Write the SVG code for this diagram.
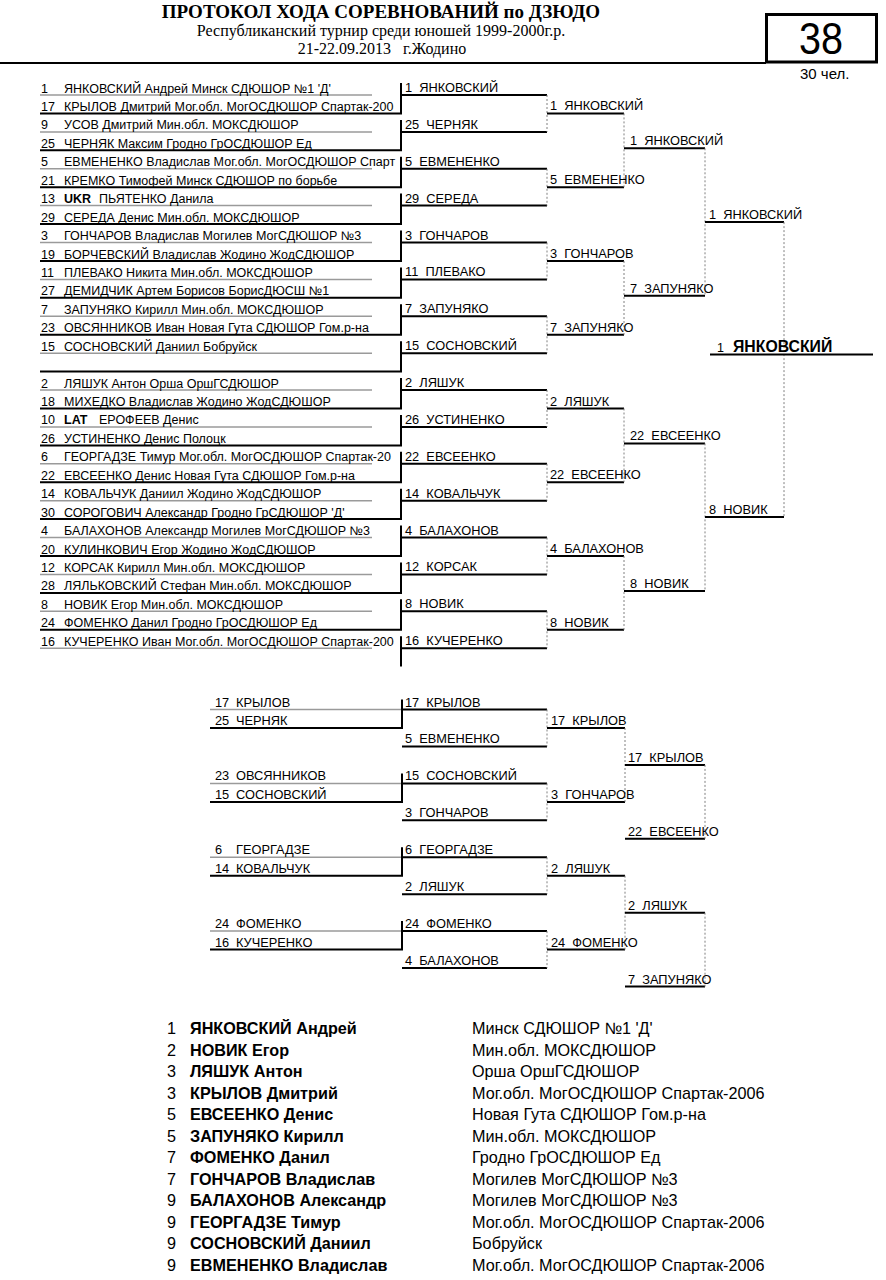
<svg xmlns="http://www.w3.org/2000/svg" width="886" height="1280" viewBox="0 0 886 1280">
<style>
text{font-family:"Liberation Sans",Arial,sans-serif;fill:#000}
.t{font-size:12.8px;white-space:pre}
.e{font-size:12.5px;white-space:pre}
.b{font-weight:bold}
.h{font-family:"Liberation Serif","Times New Roman",serif}
.L{font-size:16.2px}
.g{stroke:#9a9a9a;stroke-width:1.5;fill:none}
.k{stroke:#000;stroke-width:2;fill:none}
.d{stroke:#808080;stroke-width:1;stroke-dasharray:2 2;fill:none}
</style>
<rect width="886" height="1280" fill="#fff"/>
<g id="header">
<text class="h b" x="381" y="18" font-size="19" text-anchor="middle">ПРОТОКОЛ ХОДА СОРЕВНОВАНИЙ по ДЗЮДО</text>
<text class="h" x="381" y="36" font-size="16" text-anchor="middle">Республиканский турнир среди юношей 1999-2000г.р.</text>
<text class="h" x="382" y="54" font-size="16" text-anchor="middle" xml:space="preserve">21-22.09.2013   г.Жодино</text>
<line class="k" x1="0" y1="63" x2="766" y2="63"/>
<rect x="766.5" y="14.5" width="110" height="47.5" fill="none" stroke="#000" stroke-width="3"/>
<text x="821" y="54" font-size="45" text-anchor="middle" textLength="44" lengthAdjust="spacingAndGlyphs">38</text>
<text x="800" y="79" font-size="15">30 чел.</text>
</g>
<g id="connectors">
<path class="g" d="M40 95H372M40 131.9H372M40 168.8H372M40 205.6H372M40 242.5H372M40 279.4H372M40 316.3H372M40 353.2H372M40 390H372M40 426.9H372M40 463.8H372M40 500.7H372M40 537.6H372M40 574.4H372M40 611.3H372M40 648.2H372"/>
<path class="k" d="M40 113.4H401V83M40 150.3H401V119.9M40 187.2H401V156.8M40 224.1H401V193.6M40 261H401V230.5M40 297.8H401V267.4M40 334.7H401V304.3M40 371.6H401V341.2M40 408.5H401V378M40 445.4H401V414.9M40 482.2H401V451.8M40 519.1H401V488.7M40 556H401V525.6M40 592.9H401V562.4M40 629.8H401V599.3M401 666.6V636.2"/>
<path class="k" d="M401 95H547M401 131.9H547M401 168.8H547M401 205.6H547M401 242.5H547M401 279.4H547M401 316.3H547M401 353.2H547M401 390H547M401 426.9H547M401 463.8H547M401 500.7H547M401 537.6H547M401 574.4H547M401 611.3H547M401 648.2H547"/>
<path class="d" d="M547 95V131.9M547 168.8V205.6M547 242.5V279.4M547 316.3V353.2M547 390V426.9M547 463.8V500.7M547 537.6V574.4M547 611.3V648.2"/>
<path class="k" d="M547 113.4H624M547 187.2H624M547 261H624M547 334.7H624M547 408.5H624M547 482.2H624M547 556H624M547 629.8H624"/>
<path class="d" d="M624 113.4V187.2M624 261V334.7M624 408.5V482.2M624 556V629.8"/>
<path class="k" d="M624 148.3H705M624 295.8H705M624 443.4H705M624 590.9H705"/>
<path class="d" d="M705 148.3V295.8M705 443.4V590.9"/>
<path class="k" d="M705 222.1H784M705 517.1H784"/>
<path class="d" d="M784 222.1V517.1"/>
<path class="k" d="M710 354.5H873"/>
<path class="g" d="M210 709.5H402M210 783.4H402M210 857.3H402M210 931.1H402"/>
<path class="k" d="M210 728H402V699.5M210 801.9H402V773.4M210 875.7H402V847.3M210 949.6H402V921.1"/>
<path class="k" d="M402 709.5H547M402 746.4H547M402 783.4H547M402 820.3H547M402 857.3H547M402 894.2H547M402 931.1H547M402 968.1H547"/>
<path class="d" d="M547 709.5V746.4M547 783.4V820.3M547 857.3V894.2M547 931.1V968.1"/>
<path class="k" d="M547 728H625M547 801.9H625M547 875.7H625M547 949.6H625"/>
<path class="d" d="M625 728V801.9M625 875.7V949.6"/>
<path class="k" d="M625 764.9H705M625 838.8H705M625 912.7H705M625 986.6H705"/>
<path class="d" d="M705 764.9V838.8M705 912.7V986.6"/>
</g>
<g id="round1">
<g id="e1"><text class="e" x="41" y="92.5">1</text><text class="e" x="64" y="92.5">ЯНКОВСКИЙ Андрей Минск СДЮШОР №1 'Д'</text></g>
<g id="e17"><text class="e" x="41" y="111">17</text><text class="e" x="64" y="111">КРЫЛОВ Дмитрий Мог.обл. МогОСДЮШОР Спартак-200</text></g>
<g id="e9"><text class="e" x="41" y="129.4">9</text><text class="e" x="64" y="129.4">УСОВ Дмитрий Мин.обл. МОКСДЮШОР</text></g>
<g id="e25"><text class="e" x="41" y="147.8">25</text><text class="e" x="64" y="147.8">ЧЕРНЯК Максим Гродно ГрОСДЮШОР Ед</text></g>
<g id="e5"><text class="e" x="41" y="166.3">5</text><text class="e" x="64" y="166.3">ЕВМЕНЕНКО Владислав Мог.обл. МогОСДЮШОР Спарт</text></g>
<g id="e21"><text class="e" x="41" y="184.7">21</text><text class="e" x="64" y="184.7">КРЕМКО Тимофей Минск СДЮШОР по борьбе</text></g>
<g id="e13"><text class="e" x="41" y="203.1">13</text><text class="e b" x="64" y="203.1">UKR</text><text class="e" x="99" y="203.1">ПЬЯТЕНКО Данила</text></g>
<g id="e29"><text class="e" x="41" y="221.6">29</text><text class="e" x="64" y="221.6">СЕРЕДА Денис Мин.обл. МОКСДЮШОР</text></g>
<g id="e3"><text class="e" x="41" y="240">3</text><text class="e" x="64" y="240">ГОНЧАРОВ Владислав Могилев МогСДЮШОР №3</text></g>
<g id="e19"><text class="e" x="41" y="258.5">19</text><text class="e" x="64" y="258.5">БОРЧЕВСКИЙ Владислав Жодино ЖодСДЮШОР</text></g>
<g id="e11"><text class="e" x="41" y="276.9">11</text><text class="e" x="64" y="276.9">ПЛЕВАКО Никита Мин.обл. МОКСДЮШОР</text></g>
<g id="e27"><text class="e" x="41" y="295.3">27</text><text class="e" x="64" y="295.3">ДЕМИДЧИК Артем Борисов БорисДЮСШ №1</text></g>
<g id="e7"><text class="e" x="41" y="313.8">7</text><text class="e" x="64" y="313.8">ЗАПУНЯКО Кирилл Мин.обл. МОКСДЮШОР</text></g>
<g id="e23"><text class="e" x="41" y="332.2">23</text><text class="e" x="64" y="332.2">ОВСЯННИКОВ Иван Новая Гута СДЮШОР Гом.р-на</text></g>
<g id="e15"><text class="e" x="41" y="350.7">15</text><text class="e" x="64" y="350.7">СОСНОВСКИЙ Даниил Бобруйск</text></g>
<g id="e2"><text class="e" x="41" y="387.5">2</text><text class="e" x="64" y="387.5">ЛЯШУК Антон Орша ОршГСДЮШОР</text></g>
<g id="e18"><text class="e" x="41" y="406">18</text><text class="e" x="64" y="406">МИХЕДКО Владислав Жодино ЖодСДЮШОР</text></g>
<g id="e10"><text class="e" x="41" y="424.4">10</text><text class="e b" x="64" y="424.4">LAT</text><text class="e" x="99" y="424.4">ЕРОФЕЕВ Денис</text></g>
<g id="e26"><text class="e" x="41" y="442.9">26</text><text class="e" x="64" y="442.9">УСТИНЕНКО Денис Полоцк</text></g>
<g id="e6"><text class="e" x="41" y="461.3">6</text><text class="e" x="64" y="461.3">ГЕОРГАДЗЕ Тимур Мог.обл. МогОСДЮШОР Спартак-20</text></g>
<g id="e22"><text class="e" x="41" y="479.7">22</text><text class="e" x="64" y="479.7">ЕВСЕЕНКО Денис Новая Гута СДЮШОР Гом.р-на</text></g>
<g id="e14"><text class="e" x="41" y="498.2">14</text><text class="e" x="64" y="498.2">КОВАЛЬЧУК Даниил Жодино ЖодСДЮШОР</text></g>
<g id="e30"><text class="e" x="41" y="516.6">30</text><text class="e" x="64" y="516.6">СОРОГОВИЧ Александр Гродно ГрСДЮШОР 'Д'</text></g>
<g id="e4"><text class="e" x="41" y="535.1">4</text><text class="e" x="64" y="535.1">БАЛАХОНОВ Александр Могилев МогСДЮШОР №3</text></g>
<g id="e20"><text class="e" x="41" y="553.5">20</text><text class="e" x="64" y="553.5">КУЛИНКОВИЧ Егор Жодино ЖодСДЮШОР</text></g>
<g id="e12"><text class="e" x="41" y="571.9">12</text><text class="e" x="64" y="571.9">КОРСАК Кирилл Мин.обл. МОКСДЮШОР</text></g>
<g id="e28"><text class="e" x="41" y="590.4">28</text><text class="e" x="64" y="590.4">ЛЯЛЬКОВСКИЙ Стефан Мин.обл. МОКСДЮШОР</text></g>
<g id="e8"><text class="e" x="41" y="608.8">8</text><text class="e" x="64" y="608.8">НОВИК Егор Мин.обл. МОКСДЮШОР</text></g>
<g id="e24"><text class="e" x="41" y="627.3">24</text><text class="e" x="64" y="627.3">ФОМЕНКО Данил Гродно ГрОСДЮШОР Ед</text></g>
<g id="e16"><text class="e" x="41" y="645.7">16</text><text class="e" x="64" y="645.7">КУЧЕРЕНКО Иван Мог.обл. МогОСДЮШОР Спартак-200</text></g>
</g>
<g id="round2">
<text class="t" x="405" y="92" xml:space="preserve">1  ЯНКОВСКИЙ</text>
<text class="t" x="405" y="128.9" xml:space="preserve">25  ЧЕРНЯК</text>
<text class="t" x="405" y="165.8" xml:space="preserve">5  ЕВМЕНЕНКО</text>
<text class="t" x="405" y="202.6" xml:space="preserve">29  СЕРЕДА</text>
<text class="t" x="405" y="239.5" xml:space="preserve">3  ГОНЧАРОВ</text>
<text class="t" x="405" y="276.4" xml:space="preserve">11  ПЛЕВАКО</text>
<text class="t" x="405" y="313.3" xml:space="preserve">7  ЗАПУНЯКО</text>
<text class="t" x="405" y="350.2" xml:space="preserve">15  СОСНОВСКИЙ</text>
<text class="t" x="405" y="387" xml:space="preserve">2  ЛЯШУК</text>
<text class="t" x="405" y="423.9" xml:space="preserve">26  УСТИНЕНКО</text>
<text class="t" x="405" y="460.8" xml:space="preserve">22  ЕВСЕЕНКО</text>
<text class="t" x="405" y="497.7" xml:space="preserve">14  КОВАЛЬЧУК</text>
<text class="t" x="405" y="534.6" xml:space="preserve">4  БАЛАХОНОВ</text>
<text class="t" x="405" y="571.4" xml:space="preserve">12  КОРСАК</text>
<text class="t" x="405" y="608.3" xml:space="preserve">8  НОВИК</text>
<text class="t" x="405" y="645.2" xml:space="preserve">16  КУЧЕРЕНКО</text>
</g>
<g id="round3">
<text class="t" x="550" y="110.4" xml:space="preserve">1  ЯНКОВСКИЙ</text>
<text class="t" x="550" y="184.2" xml:space="preserve">5  ЕВМЕНЕНКО</text>
<text class="t" x="550" y="258" xml:space="preserve">3  ГОНЧАРОВ</text>
<text class="t" x="550" y="331.7" xml:space="preserve">7  ЗАПУНЯКО</text>
<text class="t" x="550" y="405.5" xml:space="preserve">2  ЛЯШУК</text>
<text class="t" x="550" y="479.2" xml:space="preserve">22  ЕВСЕЕНКО</text>
<text class="t" x="550" y="553" xml:space="preserve">4  БАЛАХОНОВ</text>
<text class="t" x="550" y="626.8" xml:space="preserve">8  НОВИК</text>
</g>
<g id="round4">
<text class="t" x="630" y="145.3" xml:space="preserve">1  ЯНКОВСКИЙ</text>
<text class="t" x="630" y="292.8" xml:space="preserve">7  ЗАПУНЯКО</text>
<text class="t" x="630" y="440.4" xml:space="preserve">22  ЕВСЕЕНКО</text>
<text class="t" x="630" y="587.9" xml:space="preserve">8  НОВИК</text>
</g>
<g id="round5">
<text class="t" x="709" y="219.1" xml:space="preserve">1  ЯНКОВСКИЙ</text>
<text class="t" x="709" y="514.1" xml:space="preserve">8  НОВИК</text>
</g>
<g id="final">
<text x="717" y="351.5" font-size="12.5">1</text>
<text class="b" x="733" y="351.5" font-size="15.8">ЯНКОВСКИЙ</text>
</g>
<g id="repechage">
<text class="t" x="215" y="706.5">17</text><text class="t" x="236" y="706.5">КРЫЛОВ</text>
<text class="t" x="215" y="725">25</text><text class="t" x="236" y="725">ЧЕРНЯК</text>
<text class="t" x="215" y="780.4">23</text><text class="t" x="236" y="780.4">ОВСЯННИКОВ</text>
<text class="t" x="215" y="798.9">15</text><text class="t" x="236" y="798.9">СОСНОВСКИЙ</text>
<text class="t" x="215" y="854.3">6</text><text class="t" x="236" y="854.3">ГЕОРГАДЗЕ</text>
<text class="t" x="215" y="872.7">14</text><text class="t" x="236" y="872.7">КОВАЛЬЧУК</text>
<text class="t" x="215" y="928.1">24</text><text class="t" x="236" y="928.1">ФОМЕНКО</text>
<text class="t" x="215" y="946.6">16</text><text class="t" x="236" y="946.6">КУЧЕРЕНКО</text>
<text class="t" x="405" y="706.5" xml:space="preserve">17  КРЫЛОВ</text>
<text class="t" x="405" y="743.4" xml:space="preserve">5  ЕВМЕНЕНКО</text>
<text class="t" x="405" y="780.4" xml:space="preserve">15  СОСНОВСКИЙ</text>
<text class="t" x="405" y="817.3" xml:space="preserve">3  ГОНЧАРОВ</text>
<text class="t" x="405" y="854.3" xml:space="preserve">6  ГЕОРГАДЗЕ</text>
<text class="t" x="405" y="891.2" xml:space="preserve">2  ЛЯШУК</text>
<text class="t" x="405" y="928.1" xml:space="preserve">24  ФОМЕНКО</text>
<text class="t" x="405" y="965.1" xml:space="preserve">4  БАЛАХОНОВ</text>
<text class="t" x="551" y="725" xml:space="preserve">17  КРЫЛОВ</text>
<text class="t" x="551" y="798.9" xml:space="preserve">3  ГОНЧАРОВ</text>
<text class="t" x="551" y="872.7" xml:space="preserve">2  ЛЯШУК</text>
<text class="t" x="551" y="946.6" xml:space="preserve">24  ФОМЕНКО</text>
<text class="t" x="628" y="761.9" xml:space="preserve">17  КРЫЛОВ</text>
<text class="t" x="628" y="835.8" xml:space="preserve">22  ЕВСЕЕНКО</text>
<text class="t" x="628" y="909.7" xml:space="preserve">2  ЛЯШУК</text>
<text class="t" x="628" y="983.6" xml:space="preserve">7  ЗАПУНЯКО</text>
</g>
<g id="results">
<g id="p1"><text class="L" x="167" y="1034">1</text><text class="L b" x="190" y="1034">ЯНКОВСКИЙ Андрей</text><text class="L" x="472" y="1034">Минск СДЮШОР №1 'Д'</text></g>
<g id="p2"><text class="L" x="167" y="1055.5">2</text><text class="L b" x="190" y="1055.5">НОВИК Егор</text><text class="L" x="472" y="1055.5">Мин.обл. МОКСДЮШОР</text></g>
<g id="p3a"><text class="L" x="167" y="1077">3</text><text class="L b" x="190" y="1077">ЛЯШУК Антон</text><text class="L" x="472" y="1077">Орша ОршГСДЮШОР</text></g>
<g id="p3b"><text class="L" x="167" y="1098.5">3</text><text class="L b" x="190" y="1098.5">КРЫЛОВ Дмитрий</text><text class="L" x="472" y="1098.5">Мог.обл. МогОСДЮШОР Спартак-2006</text></g>
<g id="p5a"><text class="L" x="167" y="1120">5</text><text class="L b" x="190" y="1120">ЕВСЕЕНКО Денис</text><text class="L" x="472" y="1120">Новая Гута СДЮШОР Гом.р-на</text></g>
<g id="p5b"><text class="L" x="167" y="1141.5">5</text><text class="L b" x="190" y="1141.5">ЗАПУНЯКО Кирилл</text><text class="L" x="472" y="1141.5">Мин.обл. МОКСДЮШОР</text></g>
<g id="p7a"><text class="L" x="167" y="1163">7</text><text class="L b" x="190" y="1163">ФОМЕНКО Данил</text><text class="L" x="472" y="1163">Гродно ГрОСДЮШОР Ед</text></g>
<g id="p7b"><text class="L" x="167" y="1184.5">7</text><text class="L b" x="190" y="1184.5">ГОНЧАРОВ Владислав</text><text class="L" x="472" y="1184.5">Могилев МогСДЮШОР №3</text></g>
<g id="p9a"><text class="L" x="167" y="1206">9</text><text class="L b" x="190" y="1206">БАЛАХОНОВ Александр</text><text class="L" x="472" y="1206">Могилев МогСДЮШОР №3</text></g>
<g id="p9b"><text class="L" x="167" y="1227.5">9</text><text class="L b" x="190" y="1227.5">ГЕОРГАДЗЕ Тимур</text><text class="L" x="472" y="1227.5">Мог.обл. МогОСДЮШОР Спартак-2006</text></g>
<g id="p9c"><text class="L" x="167" y="1249">9</text><text class="L b" x="190" y="1249">СОСНОВСКИЙ Даниил</text><text class="L" x="472" y="1249">Бобруйск</text></g>
<g id="p9d"><text class="L" x="167" y="1270.5">9</text><text class="L b" x="190" y="1270.5">ЕВМЕНЕНКО Владислав</text><text class="L" x="472" y="1270.5">Мог.обл. МогОСДЮШОР Спартак-2006</text></g>
</g>
</svg>
